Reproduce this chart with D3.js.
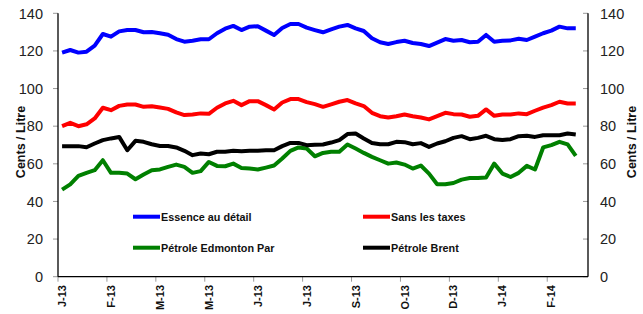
<!DOCTYPE html>
<html>
  <head>
    <meta charset="utf-8">
    <title>Prix hebdomadaires</title>
    <style>
      body{margin: 0; background: #fff;}
      svg{display: block; font-family: "Liberation Sans", Arial, sans-serif;}
    </style>
    <script src="https://d3js.org/d3.v7.min.js"></script>
  </head>
  <body>
    <script>

        // weekly values, Jan 2013 -> Mar 2014 (cents / litre)
        var essence = [119.1, 120.5, 119.1, 119.6, 122.8, 129, 127.6, 130.4, 131.1, 131.1, 129.9, 130.1, 129.4, 128.6, 126.3, 124.9, 125.4,
            126.2, 126.2, 129.4, 131.8, 133.3, 131.1, 132.9, 133.1, 130.8, 128.5, 132.2, 134.3, 134.3, 132.4, 131.1, 129.9,
            131.5, 132.9, 133.8, 132, 130.6, 126.7, 124.6, 123.7, 124.7, 125.4, 124.2, 123.7, 122.6, 124.4, 126.3, 125.4, 125.8,
            124.6, 124.9, 128.5, 124.9, 125.4, 125.6, 126.5, 125.8, 127.6, 129.4, 130.8, 132.9, 132, 132];
        var sansTaxes = [80, 81.8, 80, 81, 84.1, 89.8, 88.5, 90.8, 91.5, 91.5, 90.3, 90.6, 89.9, 89.2, 87.3, 85.9, 86.2,
            86.8, 86.6, 89.8, 92.1, 93.5, 91.2, 93.3, 93.3, 91.2, 88.9, 92.6, 94.4, 94.4, 92.8, 91.7, 90.3,
            91.6, 93, 93.9, 92.1, 90.7, 87.1, 85.3, 84.6, 85.3, 86.2, 85.3, 84.6, 83.6, 85.3, 87.1, 86.4, 86.2,
            85, 85.5, 88.9, 85.5, 86.2, 86.2, 86.8, 86.4, 88.2, 89.9, 91.2, 93, 92.1, 92.1];
        var edmonton = [46.3, 49.1, 53.6, 55.2, 56.6, 61.9, 55.2, 55.2, 54.8, 51.8, 54.3, 56.6, 57, 58.4, 59.6, 58.4, 55.2,
            56.1, 61, 58.9, 58.7, 60.1, 57.8, 57.5, 57, 58, 59.1, 62.8, 66.9, 68.7, 68.1, 64, 65.8,
            66.4, 66.4, 70.3, 68.1, 65.8, 63.7, 61.9, 60.1, 60.7, 59.6, 57.5, 59.1, 54.8, 49.1, 49.1, 49.8, 51.6,
            52.5, 52.5, 52.7, 60.1, 54.8, 53, 55.2, 58.9, 57, 68.7, 69.9, 71.7, 70.3, 64.2];
        var brent = [69.4, 69.4, 69.4, 68.8, 70.8, 72.6, 73.5, 74.3, 67.2, 72.2, 71.7, 70.4, 69.5, 69.5, 68.7, 66.9, 64.6,
            65.5, 65.1, 66.4, 66.4, 66.9, 66.7, 66.9, 66.9, 67.2, 67.2, 69.4, 71.1, 71.1, 69.9, 70.1, 70.3,
            71.3, 72.6, 75.8, 76.1, 73.5, 71.1, 70.4, 70.4, 71.7, 71.5, 70.4, 71, 69, 70.8, 72, 73.8, 74.7,
            73.1, 73.8, 74.9, 73.1, 72.6, 73.1, 74.7, 74.9, 74.3, 75.2, 75.2, 75.2, 76.1, 75.6];

        // one label every 6 weeks
        var tickLabels = ["J-13", "F-13", "M-13", "M-13", "J-13", "J-13", "S-13", "O-13", "D-13", "J-14", "F-14"];
        var yTicks = [0, 20, 40, 60, 80, 100, 120, 140];
        var nCategories = 65;

        var series = [
            {name: "Essence au détail", values: essence, color: "#0000ff"},
            {name: "Sans les taxes", values: sansTaxes, color: "#ff0000"},
            {name: "Pétrole Edmonton Par", values: edmonton, color: "#008000"},
            {name: "Pétrole Brent", values: brent, color: "#000000"}
        ];

        var width = 643, height = 314;
        var plotLeft = 58, plotRight = 588, plotTop = 13.3, plotBottom = 276.7;

        var svg = d3.select("body").append("svg")
            .attr("width", width)
            .attr("height", height);

        var x = d3.scaleLinear().domain([0, nCategories]).range([plotLeft, plotRight]);
        var y = d3.scaleLinear().domain([0, 140]).range([plotBottom, plotTop]);

        // y tick marks + labels, both sides
        yTicks.forEach(function (t) {
            svg.append("line")
                .attr("x1", plotLeft - 5).attr("x2", plotLeft)
                .attr("y1", y(t)).attr("y2", y(t))
                .attr("stroke", "#999").attr("stroke-width", 1);
            svg.append("line")
                .attr("x1", plotRight - 5).attr("x2", plotRight)
                .attr("y1", y(t)).attr("y2", y(t))
                .attr("stroke", "#999").attr("stroke-width", 1);
            svg.append("text")
                .attr("x", 43).attr("y", y(t)).attr("dy", "0.36em")
                .attr("text-anchor", "end")
                .style("font-size", "14.5px").style("fill", "#222")
                .text(t);
            svg.append("text")
                .attr("x", 600).attr("y", y(t)).attr("dy", "0.36em")
                .attr("text-anchor", "start")
                .style("font-size", "14.5px").style("fill", "#222")
                .text(t);
        });

        // x ticks at category boundaries, labels centred in the category
        tickLabels.forEach(function (lab, k) {
            var i = k * 6;
            svg.append("line")
                .attr("x1", x(i)).attr("x2", x(i))
                .attr("y1", plotBottom).attr("y2", plotBottom + 5)
                .attr("stroke", "#999").attr("stroke-width", 1);
            svg.append("text")
                .attr("transform", "translate(" + x(i + 0.5) + "," + 285 + ") rotate(-90)")
                .attr("dy", "0.36em")
                .attr("text-anchor", "end")
                .style("font-size", "11px").style("font-weight", "bold").style("fill", "#111")
                .text(lab);
        });

        // axis lines
        svg.append("line").attr("x1", plotLeft).attr("x2", plotLeft).attr("y1", plotTop).attr("y2", plotBottom)
            .attr("stroke", "#000").attr("stroke-width", 1.3);
        svg.append("line").attr("x1", plotRight).attr("x2", plotRight).attr("y1", plotTop).attr("y2", plotBottom)
            .attr("stroke", "#000").attr("stroke-width", 1.3);
        svg.append("line").attr("x1", plotLeft).attr("x2", plotRight).attr("y1", plotBottom).attr("y2", plotBottom)
            .attr("stroke", "#000").attr("stroke-width", 1.3);

        // axis titles
        [20, 631].forEach(function (cx) {
            svg.append("text")
                .attr("transform", "translate(" + cx + "," + 142 + ") rotate(-90)")
                .attr("dy", "0.36em")
                .attr("text-anchor", "middle")
                .style("font-size", "12.5px").style("font-weight", "bold").style("fill", "#111")
                .text("Cents / Litre");
        });

        var line = d3.line()
            .x(function (d, i) { return x(i + 0.5); })
            .y(function (d) { return y(d); });

        svg.selectAll(".serie").data(series)
            .enter()
            .append("path")
            .attr("class", "serie")
            .attr("d", function (d) { return line(d.values); })
            .attr("fill", "none")
            .attr("stroke", function (d) { return d.color; })
            .attr("stroke-width", 4)
            .attr("stroke-linejoin", "round");

        // legend, 2 x 2
        var legendPos = [[133, 216.7], [363, 216.7], [133, 247.7], [363, 247.7]];
        series.forEach(function (s, i) {
            var p = legendPos[i];
            svg.append("line")
                .attr("x1", p[0]).attr("x2", p[0] + 27)
                .attr("y1", p[1]).attr("y2", p[1])
                .attr("stroke", s.color).attr("stroke-width", 4);
            svg.append("text")
                .attr("x", p[0] + 28).attr("y", p[1]).attr("dy", "0.36em")
                .style("font-size", "10.8px").style("font-weight", "bold").style("fill", "#111")
                .text(s.name);
        });

    </script>
  </body>
</html>
